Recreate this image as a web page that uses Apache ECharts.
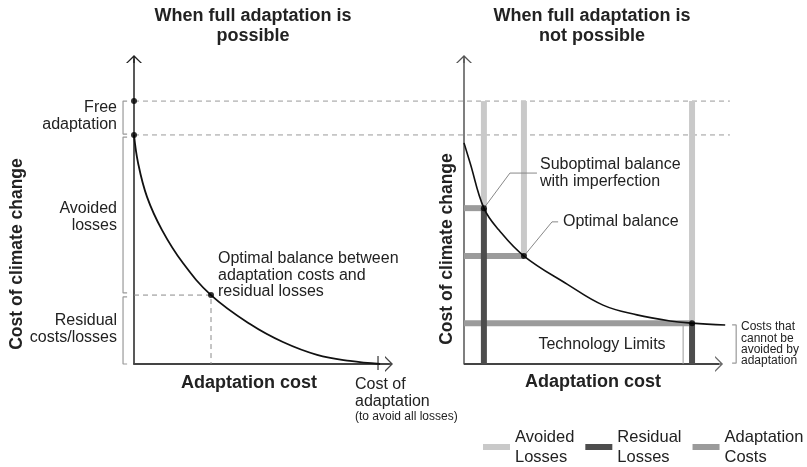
<!DOCTYPE html>
<html>
<head>
<meta charset="utf-8">
<title>Adaptation cost vs cost of climate change</title>
<script src="https://cdn.jsdelivr.net/npm/echarts@6/dist/echarts.min.js"></script>
<style>
html, body { margin: 0; padding: 0; background: #fff; }
#chart { width: 807px; height: 467px; }
</style>
</head>
<body>
<div id="chart"></div>
<script>
// conceptual diagram, both panels on a 0..100 scale

// left panel: full adaptation possible
const leftCurveX = [0, 1.6, 5.1, 11.0, 19.2, 30.2, 45.5, 58.4, 71.8, 84.7, 96.5];
const leftCurveY = [75.1, 65.9, 54.8, 43.9, 33.1, 22.6, 13.1, 7.2, 3.0, 1.0, 0];
const freeAdaptTop = 86.2;     // cost with no adaptation at all
const freeAdaptBottom = 75.1;  // cost after free adaptation
const leftOptimal = [30.2, 22.6];
const leftFullCostX = 95.7;    // cost of adaptation to avoid all losses

// right panel: full adaptation not possible
const rightCurveX = [0, 2.4, 7.8, 13.7, 23.5, 40.4, 54.5, 67.8, 80.8, 89.4, 102.4];
const rightCurveY = [72.5, 65.9, 51.1, 43.9, 35.4, 26.2, 19.3, 16.1, 14.1, 13.4, 12.8];
const choiceX = [7.8, 23.5, 89.4];   // suboptimal, optimal, technology limit
const choiceY = [51.1, 35.4, 13.4];
const techBoxX = 85.9;
const unavoidable = 12.8;

const legendNames = ['Avoided Losses', 'Residual Losses', 'Adaptation Costs'];
const legendColors = ['#c9c9c9', '#4d4d4d', '#9b9b9b'];

const FONT = '"Liberation Sans", Arial, Helvetica, sans-serif';
const ARROW = 'path://M0,8 L8,0 L16,8 L14.3,8 L8,1.9 L1.7,8 Z M7.3,1 L8.7,1 L8.7,8 L7.3,8 Z';

let zip = function (xs, ys) {
    return xs.map((x, i) => [x, ys[i]]);
};

// one straight segment (or polyline) drawn through the axes
let seg = function (name, gi, pts, color, width, dash) {
    return {
        type: 'line', name: name, xAxisIndex: gi, yAxisIndex: gi,
        data: pts, showSymbol: false, symbol: 'none', clip: false, silent: true,
        itemStyle: { color: color },
        lineStyle: { color: color, width: width, type: dash || 'solid', cap: 'butt' },
        animation: false, z: 2
    };
};

let hidden = { axisTick: { show: false }, axisLabel: { show: false }, splitLine: { show: false } };

let axisX0 = Object.assign({
    type: 'value', gridIndex: 0, min: 0, max: 100,
    axisLine: { show: true, onZero: false, symbol: ['none', ARROW], symbolSize: [16, 8],
        lineStyle: { color: '#444', width: 1.8 } }
}, hidden);
// right x axis is longer than its arrow (curve and bracket run past it), arrow drawn as series
let axisX1 = Object.assign({
    type: 'value', gridIndex: 1, min: 0, max: 108.2, axisLine: { show: false }
}, hidden);
let axisY = function (gi, color) {
    return Object.assign({
        type: 'value', gridIndex: gi, min: 0, max: 100,
        axisLine: { show: true, onZero: false, symbol: ['none', ARROW], symbolSize: [16, 8],
            lineStyle: { color: color, width: 1.5 } }
    }, hidden);
};
// frame grid across the whole figure, in left-panel units, for lines that leave the panels
let axisX2 = Object.assign({ type: 'value', gridIndex: 2, min: -13.33, max: 245.5, axisLine: { show: false } }, hidden);
let axisY2 = Object.assign({ type: 'value', gridIndex: 2, min: -18.36, max: 100, axisLine: { show: false } }, hidden);

let series = [];

// dashed reference lines across both panels
series.push(seg('ref', 2, [[0, freeAdaptTop], [233.7, freeAdaptTop]], '#9a9a9a', 1, [5, 4]));
series.push(seg('ref', 2, [[0, freeAdaptBottom], [233.7, freeAdaptBottom]], '#9a9a9a', 1, [5, 4]));

// left: optimal balance guides
series.push(seg('guide', 0, [[0, leftOptimal[1]], leftOptimal, [leftOptimal[0], 0]], '#8a8a8a', 1, [5, 4]));
// left: tick at full cost of adaptation
series.push(seg('tick', 2, [[leftFullCostX, -2.0], [leftFullCostX, 2.6]], '#333', 1.2));

// left brackets
series.push(seg('bracket', 2, [[-2.7, freeAdaptTop], [-4.3, freeAdaptTop], [-4.3, 75.4], [-2.7, 75.4]], '#9a9a9a', 1.2));
series.push(seg('bracket', 2, [[-2.7, 74.4], [-4.3, 74.4], [-4.3, 23.3], [-2.7, 23.3]], '#9a9a9a', 1.2));
series.push(seg('bracket', 2, [[-2.7, 22.0], [-4.3, 22.0], [-4.3, 0], [-2.7, 0]], '#9a9a9a', 1.2));

// left curve
series.push({
    type: 'line', name: 'curveL', xAxisIndex: 0, yAxisIndex: 0, data: zip(leftCurveX, leftCurveY),
    smooth: 0.4, showSymbol: false, clip: false, silent: true, animation: false, z: 3,
    lineStyle: { color: '#111', width: 1.8 }
});
series.push({
    type: 'scatter', name: 'dotsL', xAxisIndex: 0, yAxisIndex: 0, symbolSize: 6, z: 4,
    data: [[0, freeAdaptTop], [0, freeAdaptBottom], leftOptimal],
    itemStyle: { color: '#000' }, silent: true, animation: false
});

// right x axis line with arrow
series.push(seg('axisR', 1, [[0, 0], [100, 0]], '#444', 1.8));
series.push({
    type: 'scatter', name: 'arrowR', xAxisIndex: 1, yAxisIndex: 1, data: [[100, 0]],
    symbol: ARROW, symbolSize: [16, 8], symbolRotate: -90, z: 2,
    itemStyle: { color: '#444' }, silent: true, animation: false
});

// right: technology-limit box edge
series.push(seg('box', 1, [[techBoxX, 12.5], [techBoxX, 0]], '#9a9a9a', 1));

// right: avoided losses (light), adaptation costs (medium), residual losses (dark)
choiceX.forEach((x, i) => {
    series.push(seg(legendNames[0], 1, [[x, freeAdaptTop], [x, choiceY[i]]], legendColors[0], 6));
});
choiceX.forEach((x, i) => {
    series.push(seg(legendNames[2], 1, [[0, choiceY[i]], [x, choiceY[i]]], legendColors[2], 6));
});
[0, 2].forEach(i => {
    series.push(seg(legendNames[1], 1, [[choiceX[i], choiceY[i]], [choiceX[i], 0]], legendColors[1], 6));
});

// right bracket
series.push(seg('bracket', 1, [[105.1, unavoidable], [106.7, unavoidable], [106.7, 0.3], [105.1, 0.3]], '#9a9a9a', 1.2));

// leader lines
series.push(seg('leader', 1, [[choiceX[0], choiceY[0]], [18.0, 62.6], [28.6, 62.6]], '#888', 1));
series.push(seg('leader', 1, [[choiceX[1], choiceY[1]], [34.5, 46.6], [36.9, 46.6]], '#888', 1));

// right curve
series.push({
    type: 'line', name: 'curveR', xAxisIndex: 1, yAxisIndex: 1, data: zip(rightCurveX, rightCurveY),
    smooth: 0.4, showSymbol: false, clip: false, silent: true, animation: false, z: 3,
    lineStyle: { color: '#111', width: 1.6 }
});
series.push({
    type: 'scatter', name: 'dotsR', xAxisIndex: 1, yAxisIndex: 1, symbolSize: 6, z: 4,
    data: zip(choiceX, choiceY), itemStyle: { color: '#000' }, silent: true, animation: false
});

let txt = function (text, x, y, size, opts) {
    opts = opts || {};
    return {
        type: 'text', x: x, y: y, rotation: opts.rotation || 0, silent: true,
        style: {
            text: text, fill: '#222', fontFamily: FONT, fontSize: size,
            fontWeight: opts.bold ? 'bold' : 'normal',
            lineHeight: opts.lh || size + 2,
            align: opts.align || 'left', verticalAlign: opts.valign || 'top'
        }
    };
};

let graphics = [
    txt('When full adaptation is\npossible', 253, 6, 18, { bold: true, align: 'center', lh: 20 }),
    txt('When full adaptation is\nnot possible', 592, 6, 18, { bold: true, align: 'center', lh: 20 }),
    txt('Free\nadaptation', 117, 99.5, 16, { align: 'right', lh: 17 }),
    txt('Avoided\nlosses', 117, 200.5, 16, { align: 'right', lh: 17 }),
    txt('Residual\ncosts/losses', 117, 312.5, 16, { align: 'right', lh: 16.5 }),
    txt('Cost of climate change', 17, 254, 17.5, { bold: true, align: 'center', valign: 'middle', rotation: Math.PI / 2 }),
    txt('Cost of climate change', 447, 249, 17.5, { bold: true, align: 'center', valign: 'middle', rotation: Math.PI / 2 }),
    txt('Adaptation cost', 249, 383, 18, { bold: true, align: 'center', valign: 'middle' }),
    txt('Adaptation cost', 593, 382, 18, { bold: true, align: 'center', valign: 'middle' }),
    txt('Cost of\nadaptation', 355, 376.5, 16, { lh: 17 }),
    txt('(to avoid all losses)', 355, 417, 12, { valign: 'middle' }),
    txt('Optimal balance between\nadaptation costs and\nresidual losses', 218, 250.5, 16, { lh: 16.5 }),
    txt('Suboptimal balance\nwith imperfection', 540, 156.5, 16, { lh: 17 }),
    txt('Optimal balance', 563, 222, 16, { valign: 'middle' }),
    txt('Technology Limits', 602, 345, 16, { align: 'center', valign: 'middle' }),
    txt('Costs that\ncannot be\navoided by\nadaptation', 741, 321.5, 12, { lh: 11.3 })
];

let option = {
    backgroundColor: '#fff',
    animation: false,
    grid: [
        { left: 134, top: 59, width: 255, height: 305 },
        { left: 464, top: 59, width: 276, height: 305 },
        { left: 100, top: 59, width: 660, height: 361 }
    ],
    xAxis: [axisX0, axisX1, axisX2],
    yAxis: [axisY(0, '#222'), axisY(1, '#555'), axisY2],
    legend: {
        left: 483, top: 427, padding: 0, itemGap: 11,
        itemWidth: 27, itemHeight: 6, icon: 'rect', selectedMode: false,
        data: legendNames.map((n, i) => ({ name: n, itemStyle: { color: legendColors[i], borderWidth: 0 } })),
        itemStyle: { borderWidth: 0 },
        formatter: function (name) { return name.replace(' ', '\n'); },
        textStyle: { fontFamily: FONT, fontSize: 16.5, lineHeight: 20, color: '#222' }
    },
    series: series,
    graphic: graphics
};

let chart = echarts.init(document.getElementById('chart'), null, { renderer: 'canvas' });
chart.setOption(option);
</script>
</body>
</html>
